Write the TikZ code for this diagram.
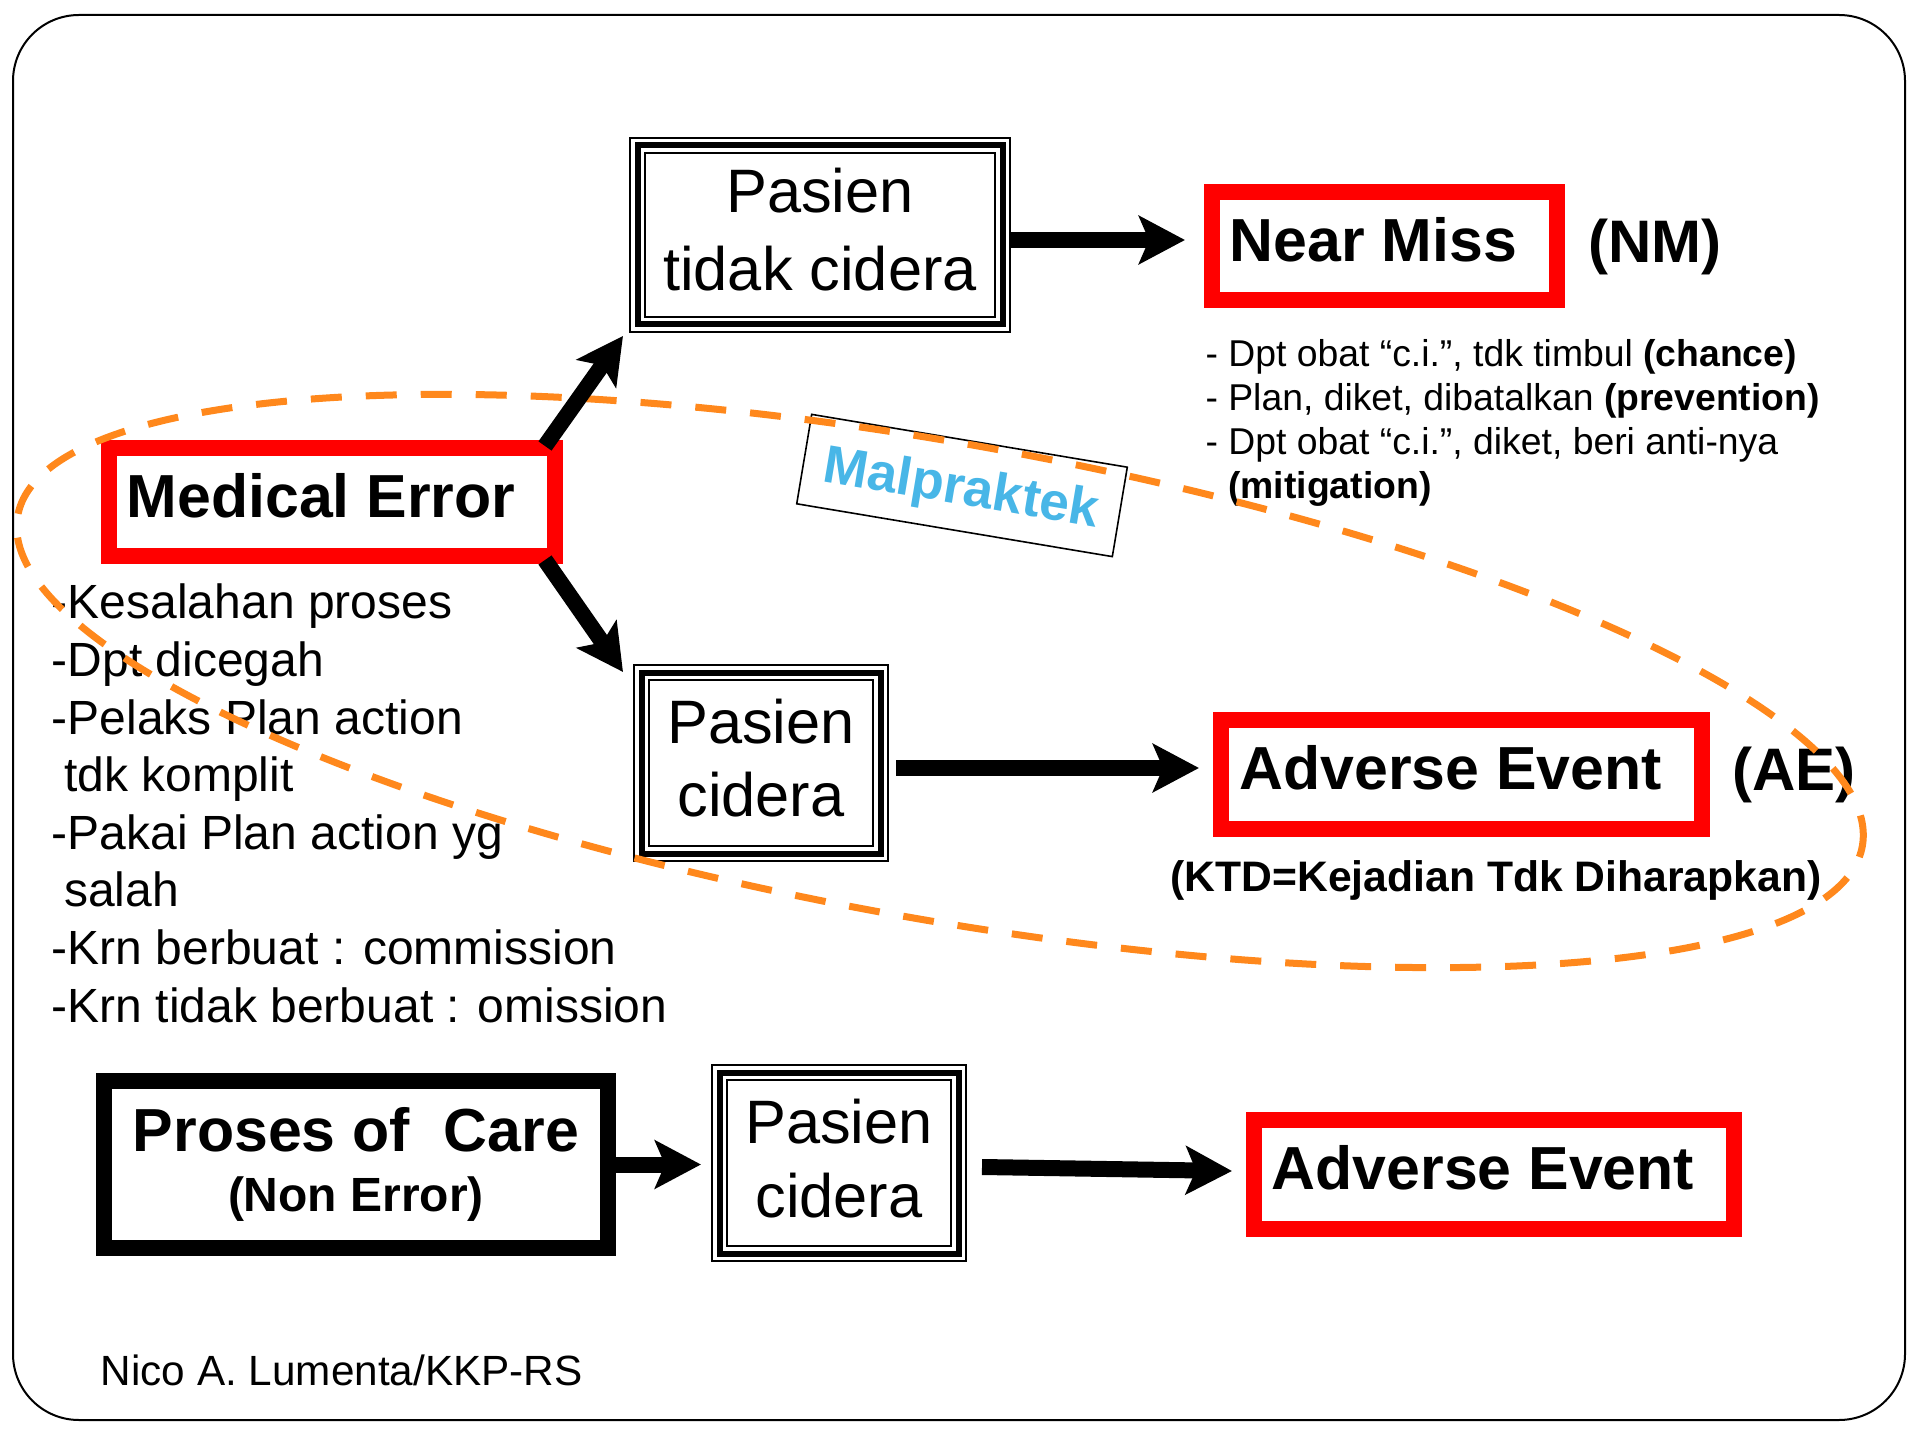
\documentclass[tikz,border=0pt]{standalone}
\usepackage{fontspec}
\setmainfont{Liberation Sans}
\usetikzlibrary{arrows.meta,calc}
\definecolor{ored}{RGB}{255,0,0}
\definecolor{dorange}{RGB}{255,136,28}
\definecolor{mblue}{RGB}{72,182,231}
\tikzset{
  tribox/.style={draw=black, line width=6.375pt, inner sep=0pt, align=center,
    postaction={draw=white, line width=4.875pt},
    postaction={draw=black, line width=2.25pt}},
  redbox/.style={draw=ored, line width=6pt, inner sep=0pt,
    font=\fontsize{22.8}{27}\selectfont\bfseries, text height=16pt, text depth=4.5pt},
  bigarrow/.style={line width=6pt, -{Stealth[length=17.25pt, width=18pt, inset=3.75pt]}},
  plaintext/.style={inner sep=0pt},
  ellipsedash/.style={draw=dorange, line width=2.625pt, dash pattern=on 11.625pt off 9pt}
}
\newcommand{\trail}{\kern0.36em}
\begin{document}
\begin{tikzpicture}[x=0.375pt, y=-0.375pt]
\useasboundingbox (0,0) rectangle (1920,1440);
% frame
\draw[line width=0.75pt, rounded corners=24.75pt] (13,15) rectangle (1905,1420);

% boxes
\node[tribox, minimum width=136.875pt, minimum height=67.125pt,
  font=\fontsize{23}{29.25}\selectfont] (p1) at (820,235)
  {Pasien\\tidak cidera\rule[-4.1pt]{0pt}{0pt}};
\node[tribox, minimum width=89.625pt, minimum height=67.875pt,
  font=\fontsize{23}{27.4}\selectfont] (p2) at (761,763)
  {Pasien\\cidera\rule[-4.2pt]{0pt}{0pt}};
\node[tribox, minimum width=89.625pt, minimum height=67.875pt,
  font=\fontsize{23}{27.75}\selectfont] (p3) at (839,1163)
  {Pasien\\cidera\rule[-3.75pt]{0pt}{0pt}};

\node[redbox, minimum width=129.375pt, minimum height=40.5pt] (nm) at (1384.5,246) {Near Miss\trail};
\node[redbox, minimum width=167.25pt, minimum height=40.5pt] (me) at (332,502) {Medical Error\trail};
\node[redbox, minimum width=180.375pt, minimum height=40.875pt] (ae1) at (1461.5,774.5) {Adverse Event\trail};
\node[redbox, minimum width=180pt, minimum height=40.875pt] (ae2) at (1494,1174.5) {Adverse Event\trail};

\node[draw=black, line width=6pt, inner sep=0pt, minimum width=189pt, minimum height=62.625pt,
  align=center, font=\fontsize{18}{22.5}\selectfont\bfseries] (pc) at (356,1164.5)
  {{\fontsize{22.8}{22.5}\selectfont Proses of\ \ Care}\\(Non Error)};

% side labels
\node[plaintext, anchor=base, font=\fontsize{22.5}{27}\selectfont\bfseries] (nmab) at (1655,263) {(NM)};
\node[plaintext, anchor=base, font=\fontsize{22.5}{27}\selectfont\bfseries] (aeab) at (1794,790) {(AE)};
\node[plaintext, anchor=base, font=\fontsize{16}{19}\selectfont\bfseries] (ktd) at (1496,891.5) {(KTD=Kejadian Tdk Diharapkan)};

\node[plaintext, anchor=north west, align=left, font=\fontsize{14}{16.5}\selectfont] (nmn) at (1205,339)
  {- Dpt obat “c.i.”, tdk timbul \textbf{(chance)}\\
   - Plan, diket, dibatalkan \textbf{(prevention)}\\
   - Dpt obat “c.i.”, diket, beri anti-nya\\
   \phantom{- }\textbf{(mitigation)}};

\node[plaintext, anchor=north west, align=left, font=\fontsize{18}{21.6}\selectfont] (lst) at (51.4,583.6)
  {-Kesalahan proses\\
   -Dpt dicegah\\
   -Pelaks Plan action\\
   \hspace*{4.6pt}tdk komplit\\
   -Pakai Plan action yg\\
   \hspace*{4.6pt}salah\\
   -Krn berbuat : commission\\
   -Krn tidak berbuat : omission};

\node[plaintext, anchor=base west, font=\fontsize{15.85}{19}\selectfont] (credit) at (100.4,1385) {Nico A. Lumenta/KKP-RS};

\node[draw=black, line width=0.6pt, rotate=-9.5, minimum width=120pt, minimum height=34pt, inner sep=0pt,
  text=mblue, font=\fontsize{20}{24}\selectfont\bfseries, text height=14.3pt, text depth=0pt] (mal) at (962,485.5) {Malpraktek};

% dashed ellipse
\draw[ellipsedash, rotate around={-10.15:(940,681)}] (940,681) ellipse [x radius=351.375pt, y radius=89.25pt];

% arrows
\draw[bigarrow] ($(me.north east)+(-18,6)$) -- ($(p1.south west)+(-6,3)$);
\draw[bigarrow] ($(me.south east)+(-18,-4)$) -- ($(p2.north west)+(-10,8)$);
\draw[bigarrow] ($(p1.east)+(0,5)$) -- ($(p1.east -| nm.west)+(-19,5)$);
\draw[bigarrow] ($(p2.east)+(7,5)$) -- ($(p2.east -| ae1.west)+(-14,5)$);
\draw[bigarrow] (pc.east) -- ($(pc.east -| p3.west)+(-10,0)$);
\draw[bigarrow] ($(p3.east)+(15,4)$) -- ($(ae2.west)+(-14,-3.5)$);
\end{tikzpicture}
\end{document}
